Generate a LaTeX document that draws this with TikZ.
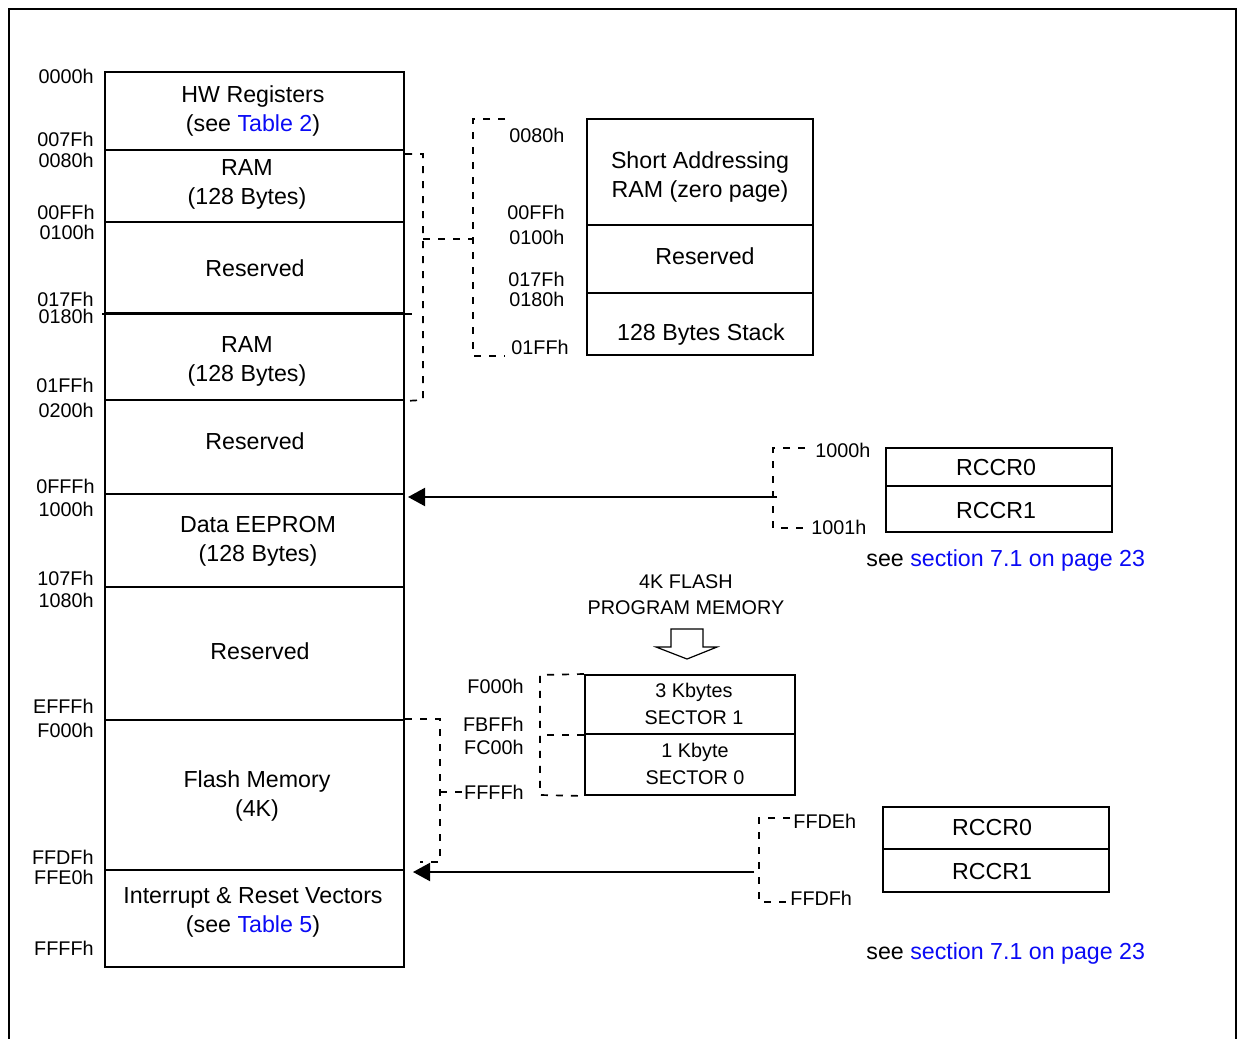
\documentclass[tikz,border=0pt]{standalone}
\usepackage{fontspec}
\setmainfont{Liberation Sans}
\usetikzlibrary{arrows.meta,fit}
\definecolor{linkblue}{RGB}{10,10,245}
\begin{document}
\begin{tikzpicture}[x=0.5pt,y=-0.5pt,
  box/.style={draw, line width=1pt, inner sep=0pt, rectangle},
  big/.style={font=\fontsize{11.6}{14.5}\selectfont, align=center, anchor=base, inner sep=0pt},
  small/.style={font=\fontsize{9.9}{13.4}\selectfont, align=center, anchor=base, inner sep=0pt},
  addrR/.style={font=\fontsize{9.9}{12}\selectfont, anchor=base east, inner sep=0pt},
  addrL/.style={font=\fontsize{9.9}{12}\selectfont, anchor=base west, inner sep=0pt},
  seetxt/.style={font=\fontsize{11.6}{14}\selectfont, anchor=base west, inner sep=0pt},
  dashline/.style={line width=0.85pt, dash pattern=on 3.5pt off 4pt},
  arr/.style={line width=1pt, -{Triangle[length=8.5pt,width=9pt]}},
  hollow/.style={draw, line width=0.6pt, fill=white}
]
\useasboundingbox (0,0) rectangle (1239,1039);
% outer frame
\draw[line width=1pt] (9,1039) -- (9,9) -- (1236,9) -- (1236,1039);

% main memory column
\node[box, fit={(105,72) (404,150)}] (hw) {};
\node[box, fit={(105,150) (404,222)}] (ram1) {};
\node[box, fit={(105,222) (404,313)}] (res1) {};
\node[box, fit={(105,313) (404,400)}] (ram2) {};
\node[box, fit={(105,400) (404,494)}] (res2) {};
\node[box, fit={(105,494) (404,587)}] (eeprom) {};
\node[box, fit={(105,587) (404,720)}] (res3) {};
\node[box, fit={(105,720) (404,870)}] (flash) {};
\node[box, fit={(105,870) (404,967)}] (vec) {};
\draw[line width=1pt] ([xshift=-1pt]res1.south west) -- ([xshift=3.5pt]res1.south east);

% (multi-line nodes: base anchor = baseline of last line)
\node[big] (thw) at (253,131) {HW Registers\\(see \textcolor{linkblue}{Table 2})};
\node[big] (tram1) at (247,204) {RAM\\(128 Bytes)};
\node[big] (tres1) at (255,276) {Reserved};
\node[big] (tram2) at (247,381) {RAM\\(128 Bytes)};
\node[big] (tres2) at (255,449) {Reserved};
\node[big] (teep) at (258,561) {Data EEPROM\\(128 Bytes)};
\node[big] (tres3) at (260,659) {Reserved};
\node[big] (tflash) at (257,816) {Flash Memory\\(4K)};
\node[big] (tvec) at (253,932) {Interrupt \& Reset Vectors\\(see \textcolor{linkblue}{Table 5})};

% main addresses
\node[addrR] (l0000) at (94,83) {0000h};
\node[addrR] (l007F) at (94,146) {007Fh};
\node[addrR] (l0080) at (94,167) {0080h};
\node[addrR] (l00FF) at (95,219) {00FFh};
\node[addrR] (l0100) at (95,239) {0100h};
\node[addrR] (l017F) at (94,306) {017Fh};
\node[addrR] (l0180) at (94,323) {0180h};
\node[addrR] (l01FF) at (94,392) {01FFh};
\node[addrR] (l0200) at (94,417) {0200h};
\node[addrR] (l0FFF) at (95,493) {0FFFh};
\node[addrR] (l1000) at (94,516) {1000h};
\node[addrR] (l107F) at (94,585) {107Fh};
\node[addrR] (l1080) at (94,607) {1080h};
\node[addrR] (lEFFF) at (94,713) {EFFFh};
\node[addrR] (lF000) at (94,737) {F000h};
\node[addrR] (lFFDF) at (94,864) {FFDFh};
\node[addrR] (lFFE0) at (94,884) {FFE0h};
\node[addrR] (lFFFFm) at (94,955) {FFFFh};

% zero page box
\node[box, fit={(587,119) (813,225)}] (sa) {};
\node[box, fit={(587,225) (813,293)}] (sres) {};
\node[box, fit={(587,293) (813,355)}] (stack) {};
\node[big] (tsa) at (700,197) {Short Addressing\\RAM (zero page)};
\node[big] (tsres) at (705,264) {Reserved};
\node[big] (tstack) at (701,340) {128 Bytes Stack};
\node[addrL] (z0080) at (509,142) {0080h};
\node[addrL] (z00FF) at (507,219) {00FFh};
\node[addrL] (z0100) at (509,244) {0100h};
\node[addrL] (z017F) at (508,286) {017Fh};
\node[addrL] (z0180) at (509,306) {0180h};
\node[addrL] (z01FF) at (511,354) {01FFh};

% brackets to zero page
\coordinate (b1a) at (423,154);
\coordinate (b1b) at (423,400);
\coordinate (b1m) at (423,239);
\coordinate (b2t) at (473,119);
\coordinate (b2b) at (473,356);
\draw[dashline] (ram1.east |- b1a) -- (b1a) -- (b1b) -- (ram2.south east);
\draw[dashline] (b1m) -- (b1m -| b2t);
\draw[dashline] (b2t) ++(32,0) -- (b2t) -- (b2b) -- ++(32,0);

% RCCR box 1
\node[box, fit={(886,448) (1112,486)}] (ra0) {};
\node[box, fit={(886,486) (1112,532)}] (ra1) {};
\node[big] (tra0) at (996,475) {RCCR0};
\node[big] (tra1) at (996,518) {RCCR1};
\coordinate (b3t) at (773,448);
\coordinate (b3b) at (773,528);
\draw[dashline] (b3t) ++(32,0) -- (b3t) -- (b3b) -- ++(32,0);
\node[addrL] (r1000) at (815,457) {1000h};
\node[addrL] (r1001) at (811,534) {1001h};
\coordinate (a1s) at (777,497);
\draw[arr, shorten >=1.5pt] (a1s) -- (a1s -| eeprom.east);
\node[seetxt] (see1) at (866,566) {see \textcolor{linkblue}{section 7.1 on page 23}};

% flash program memory
\node[small, font=\fontsize{9.9}{13}\selectfont] (tpm) at (686,614) {4K FLASH\\PROGRAM MEMORY};
\draw[hollow] (671,629) -- (703,629) -- (703,647) -- (717,647) -- (687,659) -- (656,647) -- (671,647) -- cycle;
\node[box, fit={(585,675) (795,734)}] (s1) {};
\node[box, fit={(585,734) (795,795)}] (s0) {};
\node[small] (ts1) at (694,724) {3 Kbytes\\SECTOR 1};
\node[small] (ts0) at (695,784) {1 Kbyte\\SECTOR 0};
\node[addrR] (fF000) at (524,693) {F000h};
\node[addrR] (fFBFF) at (524,731) {FBFFh};
\node[addrR] (fFC00) at (524,754) {FC00h};
\node[addrR] (lFFFF) at (524,799) {FFFFh};
\coordinate (b4t) at (540,675);
\coordinate (b4b) at (540,795);
\draw[dashline] (s1.north west) -- (b4t) -- (b4b) -- (s0.south west);
\draw[dashline] (s1.south west) -- (s1.south west -| b4t);
\coordinate (b5c) at (440,862);
\draw[dashline] (flash.north east) -- (flash.north east -| b5c) -- (b5c) -- ++(-20,0);
\draw[dashline] (lFFFF.west -| b5c) -- (lFFFF.west);

% RCCR box 2
\node[box, fit={(883,807) (1109,849)}] (rb0) {};
\node[box, fit={(883,849) (1109,892)}] (rb1) {};
\node[big] (trb0) at (992,835) {RCCR0};
\node[big] (trb1) at (992,879) {RCCR1};
\coordinate (b6t) at (759,818);
\coordinate (b6b) at (759,902);
\draw[dashline] (b6t) ++(31,0) -- (b6t) -- (b6b) -- ++(31,0);
\node[addrL] (rFFDE) at (793,828) {FFDEh};
\node[addrL] (rFFDF) at (790,905) {FFDFh};
\coordinate (a2s) at (754,872);
\draw[arr, shorten >=4pt] (a2s) -- (a2s -| vec.east);
\node[seetxt] (see2) at (866,959) {see \textcolor{linkblue}{section 7.1 on page 23}};
\end{tikzpicture}
\end{document}
